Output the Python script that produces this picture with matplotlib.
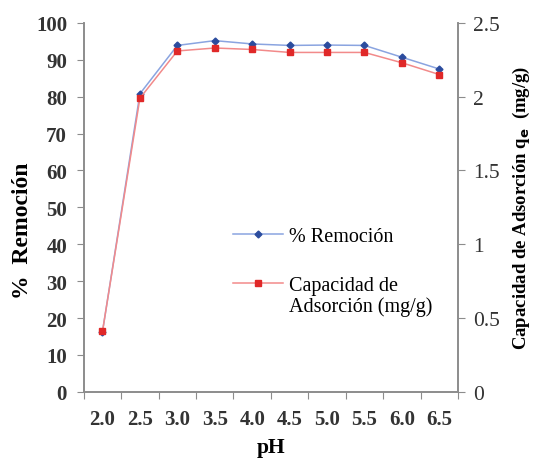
import matplotlib

matplotlib.use("Agg")
import matplotlib.pyplot as plt
import numpy as np
from matplotlib.transforms import IdentityTransform

ph_labels = ["2.0", "2.5", "3.0", "3.5", "4.0", "4.5", "5.0", "5.5", "6.0", "6.5"]
remocion = [16.3, 80.8, 93.9, 95.2, 94.3, 93.9, 94.0, 93.9, 90.7, 87.5]
capacidad = [0.41, 1.99, 2.31, 2.33, 2.32, 2.30, 2.30, 2.30, 2.23, 2.15]

plt.rcParams["font.family"] = ["Liberation Serif", "DejaVu Serif"]

fig = plt.figure(figsize=(5.37, 4.6), dpi=100)
ax = fig.add_axes([0.156, 0.146, 0.697, 0.802])
ax2 = ax.twinx()

x = np.arange(len(ph_labels)) + 0.5

(l1,) = ax.plot(
    x, remocion, color="#8aa4e0", lw=1.1,
    marker="D", ms=3.5, mfc="#2b4c9e", mec="#2b4c9e",
    label="% Remoción", zorder=3,
)
(l2,) = ax2.plot(
    x, capacidad, color="#f28a8a", lw=1.1,
    marker="s", ms=4.5, mfc="#e02828", mec="#e02828",
    label="Capacidad de", zorder=4,
)

gray = "#8c8c8c"
ax.set_xlim(0, len(ph_labels))
ax.set_ylim(0, 100)
ax2.set_ylim(0, 2.5)
ax.set_yticks(np.arange(0, 101, 10))
ax2.set_yticks([0, 0.5, 1, 1.5, 2, 2.5])
ax2.set_yticklabels(["0", "0.5", "1", "1.5", "2", "2.5"])
ax.set_xticks(np.arange(len(ph_labels) + 1))
ax.set_xticklabels([])
ax.set_xticks(x, minor=True)
ax.set_xticklabels(ph_labels, minor=True)
ax.tick_params(axis="x", which="minor", length=0, pad=12)
ax.tick_params(axis="x", which="major", length=5, color=gray)

for a in (ax, ax2):
    a.spines["top"].set_visible(False)
    for s in a.spines.values():
        s.set_color(gray)
        s.set_linewidth(1.2)
ax.tick_params(axis="y", length=5, color=gray, pad=7)
ax2.tick_params(axis="y", length=5, color=gray, pad=6)
for lab in ax.get_yticklabels() + ax.get_xticklabels(minor=True):
    lab.set_fontsize(15)
    lab.set_fontweight("bold")
    lab.set_color("#333333")
for lab in ax2.get_yticklabels():
    lab.set_fontsize(15.5)
    lab.set_color("#333333")

ax.set_xlabel("pH", fontsize=15.5, fontweight="bold", labelpad=6)
ax.set_ylabel("%  Remoción", fontsize=17, fontweight="bold")
ax.yaxis.set_label_coords(-0.135, 0.44)
ax2.set_ylabel(
    "Capacidad de Adsorción q$_\\mathbf{e}$  (mg/g)",
    fontsize=13.5, fontweight="bold", labelpad=8,
)

leg = ax.legend(
    handles=[l1, l2], frameon=False, fontsize=14.5,
    loc="upper left", bbox_to_anchor=(0.398, 0.447),
    borderpad=0, borderaxespad=0,
    handlelength=2.5, labelspacing=1.5, handletextpad=0.3,
)

# second line of the red entry, set just under "Capacidad de"
fig.canvas.draw()
bb = leg.get_texts()[1].get_window_extent()
fig.text(
    bb.x0, bb.y0 - 15.5, "Adsorción (mg/g)",
    fontsize=14.5, va="baseline", ha="left",
    transform=IdentityTransform(),
)

fig.savefig("out.png", dpi=100)
